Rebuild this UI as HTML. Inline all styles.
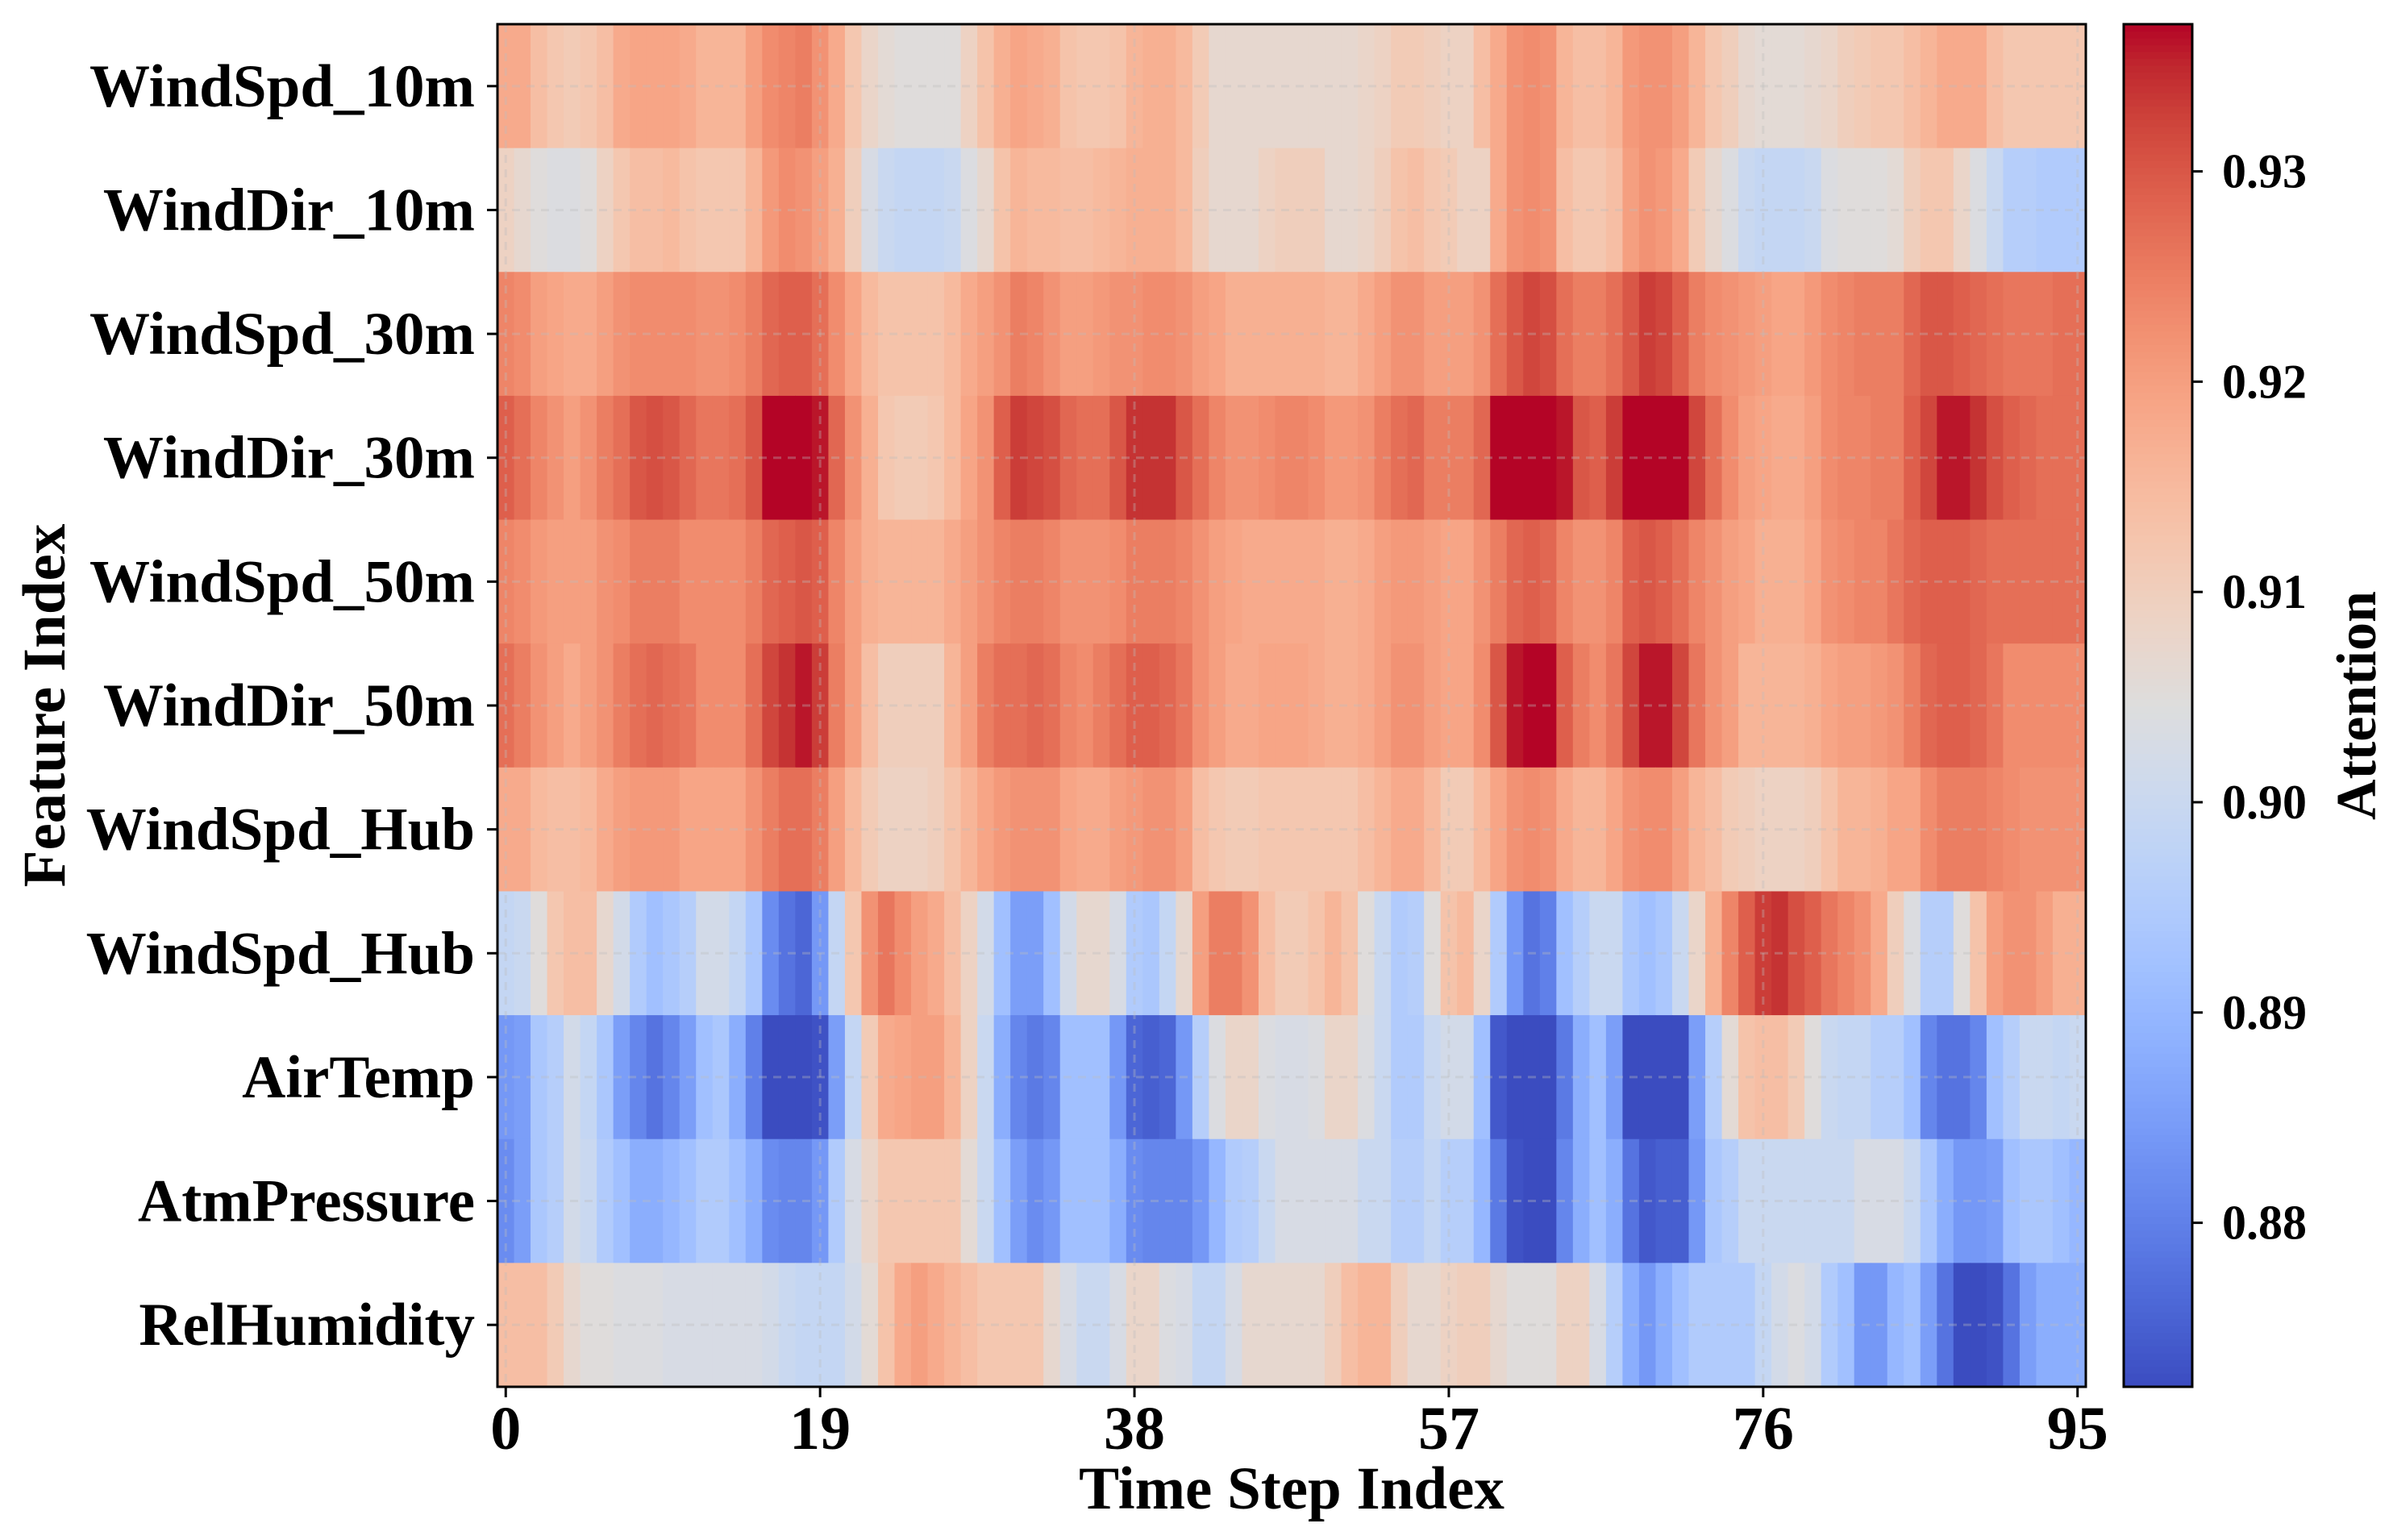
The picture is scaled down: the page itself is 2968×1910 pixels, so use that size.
<!DOCTYPE html>
<html><head><meta charset="utf-8"><title>Attention Heatmap</title>
<style>
html,body{margin:0;padding:0;background:#fff;}
svg{display:block;}
text{font-family:"Liberation Serif","Times New Roman",serif;font-weight:bold;fill:#000;}
</style></head>
<body>
<svg id="chart" width="2968" height="1910" viewBox="0 0 2968 1910" xmlns="http://www.w3.org/2000/svg">
<rect x="0" y="0" width="2968" height="1910" fill="#fff"/>
<g id="cells"></g>
<g id="grid"></g>
<rect x="617" y="30" width="1970" height="1690" fill="none" stroke="#000" stroke-width="3"/>
<g id="yaxis"></g>
<g id="xaxis"></g>
<text x="1602" y="1871" font-size="75" text-anchor="middle">Time Step Index</text>
<text transform="translate(80,875) rotate(-90)" font-size="75" text-anchor="middle">Feature Index</text>
<g id="cbar"></g>
<text transform="translate(2946,875) rotate(-90)" font-size="70" text-anchor="middle">Attention</text>
</svg>
<script>
const features = ["WindSpd_10m","WindDir_10m","WindSpd_30m","WindDir_30m","WindSpd_50m","WindDir_50m","WindSpd_Hub","WindSpd_Hub","AirTemp","AtmPressure","RelHumidity"];
const xTickLabels = [0,19,38,57,76,95];
const cbarTicks = [0.88,0.89,0.90,0.91,0.92,0.93];
const vMin = 0.8722;
const vMax = 0.937;
const rowWindSpd10 = [.918,.918,.914,.912,.911,.912,.914,.918,.919,.919,.919,.918,.916,.916,.916,.920,.923,.924,.925,.922,.918,.912,.908,.906,.905,.905,.905,.905,.909,.913,.917,.919,
.918,.917,.913,.912,.912,.913,.916,.917,.917,.915,.911,.907,.907,.907,.907,.907,.907,.907,.907,.907,.908,.909,.911,.911,.910,.909,.909,.914,.918,.922,.923,.922,
.916,.914,.914,.916,.921,.922,.922,.920,.916,.912,.910,.907,.906,.906,.906,.907,.908,.910,.911,.912,.912,.914,.916,.918,.918,.918,.914,.912,.912,.912,.912,.912];
const rowWindDir10 = [.909,.907,.905,.904,.904,.905,.909,.912,.914,.914,.915,.913,.912,.912,.912,.916,.921,.923,.922,.920,.917,.910,.903,.900,.899,.899,.899,.900,.904,.907,.913,.916,
.915,.915,.914,.914,.915,.916,.917,.917,.917,.915,.910,.907,.907,.907,.909,.910,.910,.910,.907,.907,.908,.910,.913,.914,.912,.911,.909,.909,.918,.922,.923,.922,
.914,.912,.912,.914,.920,.922,.921,.918,.911,.907,.904,.900,.899,.899,.899,.900,.904,.905,.905,.905,.906,.910,.912,.912,.908,.904,.900,.896,.896,.895,.895,.895];
const rowWindSpd30 = [.924,.923,.920,.919,.918,.918,.920,.922,.923,.923,.923,.923,.922,.922,.923,.925,.928,.929,.929,.927,.923,.919,.915,.913,.913,.913,.913,.915,.918,.920,.922,.925,
.924,.922,.920,.920,.921,.922,.922,.923,.923,.922,.920,.919,.917,.917,.917,.917,.917,.917,.916,.916,.918,.920,.922,.922,.920,.920,.920,.922,.927,.930,.932,.931,
.927,.925,.925,.927,.930,.933,.932,.929,.925,.923,.922,.921,.920,.919,.919,.921,.923,.924,.925,.925,.925,.928,.930,.930,.929,.928,.927,.926,.926,.926,.927,.927];
const rowWindDir30 = [.929,.927,.924,.922,.920,.922,.925,.927,.930,.931,.930,.928,.926,.926,.927,.930,.937,.937,.937,.936,.928,.922,.917,.912,.911,.911,.912,.915,.919,.922,.929,.933,
.932,.931,.928,.927,.927,.930,.934,.934,.934,.930,.927,.924,.922,.922,.923,.924,.924,.923,.921,.921,.922,.925,.927,.928,.925,.925,.925,.928,.937,.937,.937,.937,
.936,.930,.929,.933,.937,.937,.937,.937,.932,.927,.923,.920,.919,.918,.918,.920,.923,.924,.924,.925,.925,.929,.932,.936,.936,.934,.931,.929,.928,.927,.927,.927];
const rowWindSpd50 = [.924,.923,.921,.920,.920,.920,.922,.923,.925,.925,.925,.923,.923,.923,.923,.925,.928,.929,.930,.929,.924,.920,.917,.916,.916,.916,.916,.918,.920,.922,.924,.925,
.925,.924,.922,.922,.922,.923,.925,.925,.925,.924,.922,.920,.919,.918,.918,.918,.918,.918,.917,.917,.918,.920,.921,.921,.920,.919,.919,.922,.925,.928,.929,.928,
.924,.922,.922,.924,.929,.930,.929,.927,.924,.922,.920,.919,.917,.917,.917,.919,.922,.923,.924,.924,.926,.928,.929,.929,.929,.928,.927,.927,.927,.927,.927,.927];
const rowWindDir50 = [.927,.925,.922,.920,.918,.920,.922,.925,.927,.928,.927,.926,.923,.923,.923,.927,.932,.934,.936,.933,.925,.920,.914,.910,.910,.910,.910,.916,.920,.925,.927,.927,
.928,.927,.924,.923,.925,.927,.929,.929,.928,.926,.922,.920,.918,.918,.919,.919,.919,.918,.917,.917,.918,.920,.922,.922,.920,.919,.919,.923,.930,.936,.937,.937,
.929,.925,.923,.926,.932,.936,.936,.932,.926,.922,.920,.916,.916,.916,.916,.917,.919,.920,.920,.921,.922,.925,.928,.929,.929,.928,.926,.923,.923,.923,.923,.923];
const rowWindSpdHub = [.918,.918,.915,.914,.914,.915,.918,.920,.921,.921,.921,.919,.919,.919,.919,.922,.925,.927,.927,.925,.920,.915,.911,.909,.909,.909,.910,.913,.916,.919,.921,.922,
.922,.922,.919,.918,.918,.920,.921,.922,.922,.920,.914,.912,.911,.911,.912,.912,.912,.912,.912,.912,.914,.916,.918,.918,.915,.911,.911,.915,.919,.922,.923,.922,
.918,.916,.916,.919,.922,.923,.923,.920,.916,.914,.911,.910,.909,.909,.909,.910,.913,.916,.916,.917,.919,.919,.923,.925,.925,.925,.924,.923,.922,.922,.922,.922];
const rowWindSpdHub2 = [.899,.900,.905,.912,.914,.914,.907,.902,.895,.892,.894,.896,.902,.902,.899,.894,.882,.878,.876,.884,.899,.912,.922,.926,.923,.920,.918,.914,.909,.902,.892,.885,
.885,.892,.902,.907,.907,.903,.895,.894,.899,.907,.920,.925,.925,.922,.914,.911,.911,.913,.916,.913,.905,.900,.895,.896,.905,.913,.915,.908,.895,.884,.878,.880,
.892,.896,.900,.900,.894,.892,.894,.900,.908,.917,.924,.929,.933,.934,.931,.929,.926,.924,.922,.918,.910,.904,.896,.896,.905,.913,.920,.922,.922,.920,.917,.917];
const rowAirTemp = [.884,.885,.894,.896,.902,.899,.894,.885,.881,.878,.881,.885,.892,.894,.888,.880,.872,.872,.872,.873,.885,.899,.911,.918,.919,.920,.920,.916,.909,.900,.888,.881,
.879,.881,.892,.892,.892,.884,.876,.875,.876,.884,.896,.904,.908,.908,.904,.903,.903,.904,.908,.908,.904,.900,.895,.895,.900,.902,.902,.892,.874,.872,.872,.872,
.879,.888,.892,.885,.872,.872,.872,.872,.885,.896,.906,.913,.914,.914,.911,.905,.900,.899,.899,.896,.896,.892,.881,.878,.878,.881,.892,.896,.900,.900,.899,.900];
const rowAtmPressure = [.882,.885,.894,.896,.902,.900,.895,.892,.888,.888,.890,.892,.895,.895,.892,.888,.882,.881,.881,.884,.895,.903,.908,.912,.912,.912,.912,.912,.906,.900,.892,.885,
.882,.884,.892,.892,.892,.888,.882,.881,.881,.881,.884,.890,.895,.896,.900,.903,.903,.903,.903,.903,.900,.900,.896,.896,.899,.896,.896,.890,.879,.873,.872,.872,
.881,.888,.892,.888,.878,.874,.875,.875,.884,.894,.896,.900,.900,.900,.900,.900,.900,.900,.903,.903,.903,.900,.894,.888,.884,.884,.885,.892,.894,.894,.892,.890];
const rowRelHumidity = [.914,.914,.914,.911,.907,.905,.905,.904,.904,.904,.903,.903,.903,.903,.903,.903,.902,.900,.899,.899,.899,.902,.906,.913,.918,.920,.918,.916,.914,.912,.912,.912,
.912,.907,.903,.900,.900,.903,.908,.908,.904,.903,.899,.899,.903,.907,.907,.907,.907,.907,.910,.914,.916,.916,.910,.907,.907,.909,.910,.910,.907,.905,.905,.905,
.909,.909,.903,.896,.888,.884,.888,.892,.895,.895,.895,.895,.899,.902,.904,.902,.895,.892,.884,.884,.890,.892,.885,.878,.872,.872,.873,.878,.885,.888,.888,.888];
const matrix = [rowWindSpd10,rowWindDir10,rowWindSpd30,rowWindDir30,rowWindSpd50,rowWindDir50,rowWindSpdHub,rowWindSpdHub2,rowAirTemp,rowAtmPressure,rowRelHumidity];

const NS = "http://www.w3.org/2000/svg";
const PX0 = 617, PX1 = 2587, PY0 = 30, PY1 = 1720;
const nCols = 96, nRows = features.length;
const colW = (PX1 - PX0) / nCols, rowH = (PY1 - PY0) / nRows;
function xScale(i){ return PX0 + i * colW; }
function yScale(r){ return PY0 + r * rowH; }
const CB_X = 2634, CB_W = 85, CB_Y0 = 30, CB_Y1 = 1720;
function cbScale(v){ return CB_Y1 - (v - vMin) / (vMax - vMin) * (CB_Y1 - CB_Y0); }

const cmapStops = [[59,76,192],[68,90,204],[77,104,215],[87,117,225],[98,130,234],[108,142,241],[119,154,247],[130,165,251],[141,176,254],[152,185,255],[163,194,255],[174,201,253],[184,208,249],[194,213,244],[204,217,238],[213,219,230],[221,221,221],[229,216,209],[236,211,197],[241,204,184],[245,196,172],[247,187,160],[247,177,148],[247,166,135],[244,154,123],[241,141,111],[236,127,99],[229,112,88],[222,96,77],[213,80,66],[203,62,56],[192,40,47],[180,4,38]];
function cmap(t){
  t = Math.max(0, Math.min(1, t));
  const p = t * (cmapStops.length - 1), i = Math.min(Math.floor(p), cmapStops.length - 2), f = p - i;
  const a = cmapStops[i], b = cmapStops[i+1];
  return "rgb(" + [0,1,2].map(k => Math.round(a[k] + (b[k]-a[k]) * f)).join(",") + ")";
}
function color(v){ return cmap((v - vMin) / (vMax - vMin)); }

const cells = document.getElementById("cells");
for (let r = 0; r < nRows; r++) {
  for (let c = 0; c < nCols; c++) {
    const rect = document.createElementNS(NS, "rect");
    rect.setAttribute("x", xScale(c));
    rect.setAttribute("y", yScale(r));
    rect.setAttribute("width", colW + 0.6);
    rect.setAttribute("height", rowH + 0.6);
    rect.setAttribute("fill", color(matrix[r][c]));
    
    
    cells.appendChild(rect);
  }
}

const grid = document.getElementById("grid");
xTickLabels.forEach(t => {
  const x = xScale(t) + colW / 2;
  const l = document.createElementNS(NS, "line");
  l.setAttribute("x1", x); l.setAttribute("x2", x); l.setAttribute("y1", PY0); l.setAttribute("y2", PY1);
  l.setAttribute("stroke", "rgba(190,190,190,0.35)"); l.setAttribute("stroke-width", "3"); l.setAttribute("stroke-dasharray", "10,8");
  
  
  grid.appendChild(l);
});
features.forEach((f, r) => {
  const y = yScale(r) + rowH / 2;
  const l = document.createElementNS(NS, "line");
  l.setAttribute("x1", PX0); l.setAttribute("x2", PX1); l.setAttribute("y1", y); l.setAttribute("y2", y);
  l.setAttribute("stroke", "rgba(190,190,190,0.35)"); l.setAttribute("stroke-width", "3"); l.setAttribute("stroke-dasharray", "10,8");
  
  
  grid.appendChild(l);
});

const yaxis = document.getElementById("yaxis");
features.forEach((f, r) => {
  const y = yScale(r) + rowH / 2;
  const tk = document.createElementNS(NS, "line");
  tk.setAttribute("x1", PX0 - 13); tk.setAttribute("x2", PX0); tk.setAttribute("y1", y); tk.setAttribute("y2", y);
  tk.setAttribute("stroke", "#000"); tk.setAttribute("stroke-width", "3");
  
  
  yaxis.appendChild(tk);
  const tx = document.createElementNS(NS, "text");
  tx.setAttribute("x", 589); tx.setAttribute("y", y + 25); tx.setAttribute("font-size", "75"); tx.setAttribute("text-anchor", "end");
  tx.textContent = f;
  
  
  yaxis.appendChild(tx);
});

const xaxis = document.getElementById("xaxis");
xTickLabels.forEach(t => {
  const x = xScale(t) + colW / 2;
  const tk = document.createElementNS(NS, "line");
  tk.setAttribute("x1", x); tk.setAttribute("x2", x); tk.setAttribute("y1", PY1); tk.setAttribute("y2", PY1 + 13);
  tk.setAttribute("stroke", "#000"); tk.setAttribute("stroke-width", "3");
  
  
  xaxis.appendChild(tk);
  const tx = document.createElementNS(NS, "text");
  tx.setAttribute("x", x); tx.setAttribute("y", 1797); tx.setAttribute("font-size", "76"); tx.setAttribute("text-anchor", "middle");
  tx.textContent = String(t);
  
  
  xaxis.appendChild(tx);
});

const cbar = document.getElementById("cbar");
const nSteps = 200;
for (let i = 0; i < nSteps; i++) {
  const v0 = vMin + (vMax - vMin) * i / nSteps, v1 = vMin + (vMax - vMin) * (i + 1) / nSteps;
  const rc = document.createElementNS(NS, "rect");
  rc.setAttribute("x", CB_X); rc.setAttribute("width", CB_W);
  rc.setAttribute("y", cbScale(v1)); rc.setAttribute("height", cbScale(v0) - cbScale(v1) + 0.8);
  rc.setAttribute("fill", color((v0 + v1) / 2));
  
  
  cbar.appendChild(rc);
}
const cbFrame = document.createElementNS(NS, "rect");
cbFrame.setAttribute("x", CB_X); cbFrame.setAttribute("y", CB_Y0); cbFrame.setAttribute("width", CB_W); cbFrame.setAttribute("height", CB_Y1 - CB_Y0);
cbFrame.setAttribute("fill", "none"); cbFrame.setAttribute("stroke", "#000"); cbFrame.setAttribute("stroke-width", "3");


cbar.appendChild(cbFrame);
cbarTicks.forEach(t => {
  const y = cbScale(t);
  const tk = document.createElementNS(NS, "line");
  tk.setAttribute("x1", CB_X + CB_W); tk.setAttribute("x2", CB_X + CB_W + 13); tk.setAttribute("y1", y); tk.setAttribute("y2", y);
  tk.setAttribute("stroke", "#000"); tk.setAttribute("stroke-width", "3");
  
  
  cbar.appendChild(tk);
  const tx = document.createElementNS(NS, "text");
  tx.setAttribute("x", 2756); tx.setAttribute("y", y + 20); tx.setAttribute("font-size", "60");
  tx.textContent = t.toFixed(2);
  
  
  cbar.appendChild(tx);
});
</script>
</body></html>
